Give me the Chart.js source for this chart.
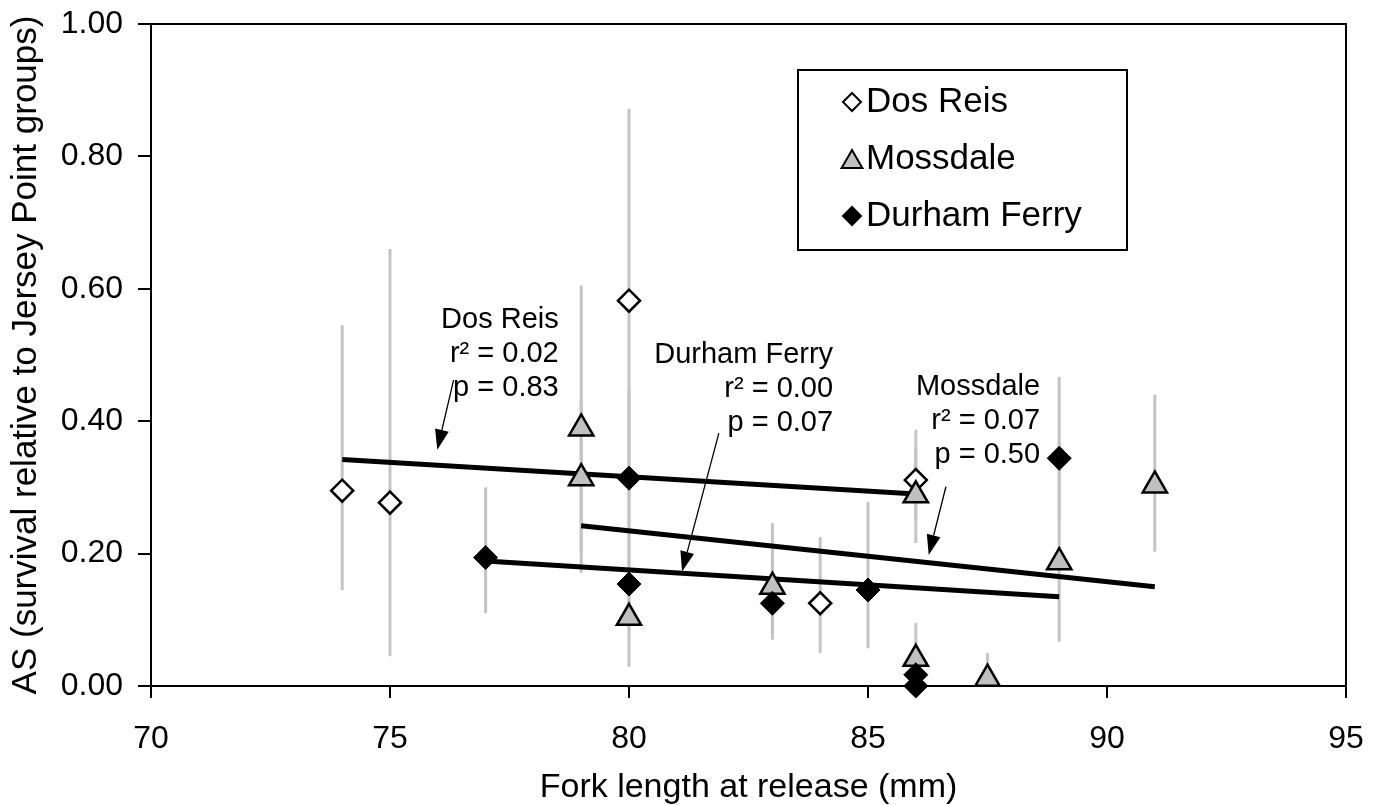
<!DOCTYPE html>
<html>
<head>
<meta charset="utf-8">
<script src="https://cdn.jsdelivr.net/npm/chart.js@4.4.1/dist/chart.umd.min.js"></script>
<style>
  html, body { margin: 0; padding: 0; background: #fff; }
</style>
</head>
<body>
<canvas id="chart" width="1381" height="805"></canvas>
<script>
const FONT = "'Liberation Sans', Arial, sans-serif";

// Dos Reis releases
const dosReisX = [74, 75, 80, 84, 86];
const dosReisY = [0.295, 0.277, 0.582, 0.125, 0.311];
const dosReisLo = [0.145, 0.045, 0.29, 0.05, 0.25];
const dosReisHi = [0.545, 0.66, 0.872, 0.225, 0.387];

// Mossdale releases
const mossdaleX = [79, 79, 80, 83, 86, 86, 87.5, 89, 91];
const mossdaleY = [0.389, 0.314, 0.103, 0.15, 0.288, 0.041, 0.011, 0.187, 0.303];
const mossdaleLo = [0.171, 0.2, 0.029, 0.07, 0.216, 0, 0, 0.067, 0.203];
const mossdaleHi = [0.605, 0.43, 0.2, 0.246, 0.36, 0.095, 0.05, 0.37, 0.44];

// Durham Ferry releases
const durhamX = [77, 80, 80, 83, 85, 86, 86, 89];
const durhamY = [0.194, 0.314, 0.154, 0.125, 0.145, 0.017, 0.0, 0.344];
const durhamLo = [0.11, 0.2, 0.08, 0.08, 0.057, 0, 0, 0.25];
const durhamHi = [0.30, 0.45, 0.29, 0.2, 0.278, 0.05, 0.02, 0.467];

// fitted regression lines (end points)
const dosReisFitX = [74, 86];
const dosReisFitY = [0.342, 0.290];
const mossdaleFitX = [79, 91];
const mossdaleFitY = [0.242, 0.150];
const durhamFitX = [77, 89];
const durhamFitY = [0.189, 0.135];

const xTicks = [70, 75, 80, 85, 90, 95];
const yTicks = [0, 0.2, 0.4, 0.6, 0.8, 1.0];

const toPoints = (xs, ys) => xs.map((x, i) => ({ x: x, y: ys[i] }));

// regression labels: text, anchor (right edge, first line) and arrow in data units
const notes = [
  { lines: ["Dos Reis", "r\u00B2 = 0.02", "p = 0.83"], x: 78.53, y: 0.553,
    arrow: [76.33, 0.462, 75.99, 0.357] },
  { lines: ["Durham Ferry", "r\u00B2 = 0.00", "p = 0.07"], x: 84.27, y: 0.500,
    arrow: [81.88, 0.382, 81.11, 0.173] },
  { lines: ["Mossdale", "r\u00B2 = 0.07", "p = 0.50"], x: 88.6, y: 0.452,
    arrow: [86.63, 0.301, 86.27, 0.198] },
];

const errorBars = {
  id: "errorBars",
  beforeDatasetsDraw(chart) {
    const { ctx, scales: { x, y } } = chart;
    const sets = [
      [dosReisX, dosReisLo, dosReisHi],
      [mossdaleX, mossdaleLo, mossdaleHi],
      [durhamX, durhamLo, durhamHi],
    ];
    ctx.save();
    ctx.strokeStyle = "#c4c4c4";
    ctx.lineWidth = 3;
    sets.forEach(([xs, lo, hi]) => {
      xs.forEach((v, i) => {
        const px = x.getPixelForValue(v);
        ctx.beginPath();
        ctx.moveTo(px, y.getPixelForValue(lo[i]));
        ctx.lineTo(px, y.getPixelForValue(hi[i]));
        ctx.stroke();
      });
    });
    // frame round the plot area
    const a = chart.chartArea;
    ctx.strokeStyle = "#000";
    ctx.lineWidth = 2;
    ctx.strokeRect(a.left, a.top, a.right - a.left, a.bottom - a.top);
    ctx.restore();
  },
};

const drawArrow = (ctx, x1, y1, x2, y2) => {
  const ang = Math.atan2(y2 - y1, x2 - x1);
  const len = 20, half = 7;
  const bx = x2 - len * Math.cos(ang), by = y2 - len * Math.sin(ang);
  ctx.beginPath();
  ctx.moveTo(x1, y1);
  ctx.lineTo(bx, by);
  ctx.lineWidth = 1.3;
  ctx.stroke();
  ctx.beginPath();
  ctx.moveTo(x2, y2);
  ctx.lineTo(bx + half * Math.sin(ang), by - half * Math.cos(ang));
  ctx.lineTo(bx - half * Math.sin(ang), by + half * Math.cos(ang));
  ctx.closePath();
  ctx.fill();
};

const notesPlugin = {
  id: "notes",
  afterDatasetsDraw(chart) {
    const { ctx, scales: { x, y } } = chart;
    ctx.save();
    ctx.fillStyle = "#000";
    ctx.strokeStyle = "#000";
    ctx.font = "29px " + FONT;
    ctx.textAlign = "right";
    ctx.textBaseline = "middle";
    notes.forEach((n) => {
      const px = x.getPixelForValue(n.x);
      const py = y.getPixelForValue(n.y);
      n.lines.forEach((t, i) => ctx.fillText(t, px, py + i * 34));
      const [ax1, ay1, ax2, ay2] = n.arrow;
      drawArrow(ctx, x.getPixelForValue(ax1), y.getPixelForValue(ay1),
        x.getPixelForValue(ax2), y.getPixelForValue(ay2));
    });
    ctx.restore();
  },
};

const boxLegend = {
  id: "boxLegend",
  afterDraw(chart) {
    const { ctx } = chart;
    ctx.save();
    ctx.strokeStyle = "#000";
    ctx.lineWidth = 2;
    ctx.fillStyle = "#fff";
    ctx.fillRect(798, 70, 329, 180);
    ctx.strokeRect(798, 70, 329, 180);
    const items = chart.data.datasets.filter((d) => d.legend);
    items.sort((a, b) => a.legend - b.legend);
    items.forEach((d, i) => {
      const cy = 102 + i * 57;
      const style = {
        pointStyle: d.pointStyle,
        radius: d.pointStyle === "triangle" ? 12 : 9,
        borderWidth: 2,
        rotation: 0,
      };
      ctx.fillStyle = d.backgroundColor;
      ctx.strokeStyle = d.borderColor;
      ctx.lineWidth = 2;
      Chart.helpers.drawPoint(ctx, style, 852, d.pointStyle === "triangle" ? cy + 3 : cy);
      ctx.fillStyle = "#000";
      ctx.font = "35px " + FONT;
      ctx.textAlign = "left";
      ctx.textBaseline = "middle";
      ctx.fillText(d.label, 866, cy);
    });
    ctx.restore();
  },
};

const fitLine = (label, xs, ys) => ({
  type: "line",
  label: label,
  data: toPoints(xs, ys),
  borderColor: "#000",
  borderWidth: 5,
  pointRadius: 0,
  showLine: true,
  fill: false,
  order: 10,
  clip: false,
});

new Chart(document.getElementById("chart"), {
  type: "scatter",
  data: {
    datasets: [
      {
        label: "Dos Reis",
        legend: 1,
        data: toPoints(dosReisX, dosReisY),
        pointStyle: "rectRot",
        pointRadius: 11,
        backgroundColor: "#fff",
        borderColor: "#000",
        borderWidth: 2.5,
        order: 3,
        clip: false,
      },
      {
        label: "Mossdale",
        legend: 2,
        data: toPoints(mossdaleX, mossdaleY),
        pointStyle: "triangle",
        pointRadius: 14,
        backgroundColor: "#c0c0c0",
        borderColor: "#000",
        borderWidth: 2.5,
        order: 2,
        clip: false,
      },
      {
        label: "Durham Ferry",
        legend: 3,
        data: toPoints(durhamX, durhamY),
        pointStyle: "rectRot",
        pointRadius: 12,
        backgroundColor: "#000",
        borderColor: "#000",
        borderWidth: 1,
        order: 1,
        clip: false,
      },
      fitLine("Dos Reis fit", dosReisFitX, dosReisFitY),
      fitLine("Mossdale fit", mossdaleFitX, mossdaleFitY),
      fitLine("Durham Ferry fit", durhamFitX, durhamFitY),
    ],
  },
  options: {
    responsive: false,
    devicePixelRatio: 1,
    animation: false,
    layout: { padding: { top: 24, right: 35, left: 0, bottom: 0 } },
    plugins: {
      legend: { display: false },
      tooltip: { enabled: false },
    },
    scales: {
      x: {
        type: "linear",
        min: 70,
        max: 95,
        afterBuildTicks: (s) => { s.ticks = xTicks.map((v) => ({ value: v })); },
        afterFit: (s) => {
          s.height = 119;
          s.paddingLeft = 0;
          s.paddingRight = 0;
        },
        ticks: { color: "#000", font: { family: FONT, size: 32 }, padding: 22 },
        grid: { drawOnChartArea: false, color: "#000", lineWidth: 2, tickLength: 12 },
        border: { color: "#000", width: 2 },
        title: {
          display: true,
          text: "Fork length at release (mm)",
          color: "#000",
          font: { family: FONT, size: 34, lineHeight: 1 },
          padding: { top: 0, bottom: 0 },
        },
      },
      y: {
        min: 0,
        max: 1,
        afterBuildTicks: (s) => { s.ticks = yTicks.map((v) => ({ value: v })); },
        afterFit: (s) => {
          s.width = 151;
          s.paddingTop = 0;
          s.paddingBottom = 0;
        },
        ticks: {
          color: "#000",
          font: { family: FONT, size: 32 },
          padding: 15,
          callback: (v) => Number(v).toFixed(2),
        },
        grid: { drawOnChartArea: false, color: "#000", lineWidth: 2, tickLength: 13 },
        border: { color: "#000", width: 2 },
        title: {
          display: true,
          text: "AS (survival relative to Jersey Point groups)",
          color: "#000",
          font: { family: FONT, size: 35, lineHeight: 1 },
          padding: { top: 9, bottom: 0 },
        },
      },
    },
  },
  plugins: [errorBars, notesPlugin, boxLegend],
});
</script>
</body>
</html>
